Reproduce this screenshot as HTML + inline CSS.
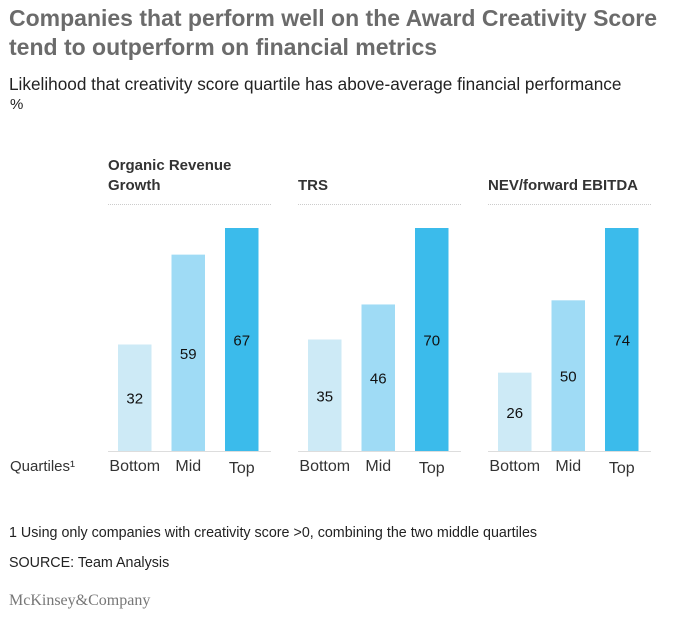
<!DOCTYPE html>
<html><head><meta charset="utf-8"><style>
body{margin:0;background:#fff;font-family:"Liberation Sans",sans-serif;}
#wrap{position:relative;width:675px;height:622px;overflow:hidden;}
.t{position:absolute;white-space:nowrap;}
</style></head><body>
<div id="wrap">
<div class="t" style="left:9px;top:4px;font-size:23px;font-weight:bold;color:#6b6b6b;line-height:29px;">Companies that perform well on the Award Creativity Score<br>tend to outperform on financial metrics</div>
<div class="t" style="left:9px;top:74px;font-size:17.2px;color:#222;">Likelihood that creativity score quartile has above-average financial performance</div>
<div class="t" style="left:10px;top:96px;font-size:15px;color:#222;">%</div>
<svg id="chart" width="675" height="622" style="position:absolute;left:0;top:0"></svg>
<div class="t" style="left:9px;top:525px;font-size:14.3px;color:#222;">1 Using only companies with creativity score &gt;0, combining the two middle quartiles</div>
<div class="t" style="left:9px;top:555px;font-size:14.3px;color:#222;">SOURCE: Team Analysis</div>
<div class="t" style="left:9px;top:592px;font-size:16px;color:#777;font-family:'Liberation Serif',serif;">McKinsey&amp;Company</div>
</div>
<script>
const panels=["Organic Revenue|Growth","TRS","NEV/forward EBITDA"];
const categories=["Bottom","Mid","Top"];
const orgValues=[32,59,67];
const trsValues=[35,46,70];
const nevValues=[26,50,74];
const series=[orgValues,trsValues,nevValues];
const colors=["#cdeaf6","#9fdbf5","#3bbbeb"];
const svg=document.getElementById('chart');
const NS="http://www.w3.org/2000/svg";
const base=451, maxH=223;
function mk(tag,attrs){const e=document.createElementNS(NS,tag);for(const k in attrs)e.setAttribute(k,attrs[k]);svg.appendChild(e);return e;}
function y(v,max){return base-v/max*maxH;}
function x(p,i){return 118+p*190+i*53.5;}
const q=mk('text',{x:10,y:471,'font-size':15,fill:'#333'});
q.textContent="Quartiles¹";


panels.forEach((title,p)=>{
  const px=108+p*190;
  const lines=title.split("|");
  lines.forEach((ln,li)=>{
    const t=mk('text',{x:px,y:(lines.length===2?170:190)+li*20,'font-size':15,'font-weight':'bold',fill:'#333'});
    t.textContent=ln;
    
    
  });
  const d=mk('line',{x1:px,x2:px+163,y1:204.5,y2:204.5,stroke:'#ccc','stroke-dasharray':'1,1'});
  
  
  const b=mk('line',{x1:px,x2:px+163,y1:451.5,y2:451.5,stroke:'#ddd'});
  
  
  const vals=series[p];const mx=Math.max(...vals);
  vals.forEach((v,i)=>{
    const bx=x(p,i),top=y(v,mx);
    const r=mk('rect',{x:bx,y:top,width:33.5,height:base-top,fill:colors[i]});
    
    
    const t=mk('text',{x:bx+16.75,y:(top+base)/2+6,'font-size':15,'text-anchor':'middle',fill:'#111'});
    t.textContent=v;
    
    
    const c=mk('text',{x:bx+16.75,y:i===2?473:471,'font-size':16,'text-anchor':'middle',fill:'#333'});
    c.textContent=categories[i];
    
    
  });
});
</script>
</body></html>
